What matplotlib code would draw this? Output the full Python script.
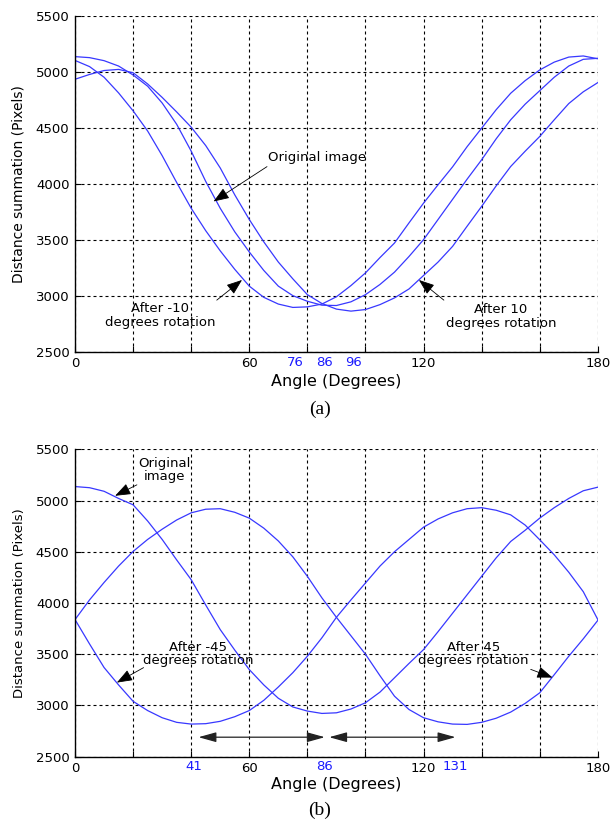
import matplotlib
matplotlib.use("Agg")
import matplotlib.pyplot as plt

# Sampled angles (degrees) shared by every curve
angles = list(range(0, 181, 5))

# (a) small rotations
orig_a = [5134, 5125, 5098, 5050, 4970, 4870, 4720, 4530, 4290, 4020, 3780, 3570,
          3390, 3225, 3085, 3000, 2950, 2915, 2912, 2945, 3009, 3100, 3210, 3350,
          3500, 3680, 3860, 4040, 4213, 4400, 4570, 4710, 4830, 4950, 5050, 5110, 5119]
minus10_a = [5100, 5045, 4950, 4810, 4650, 4470, 4250, 4010, 3780, 3580, 3400, 3235,
             3085, 2985, 2925, 2895, 2900, 2925, 2990, 3090, 3203, 3340, 3470, 3650,
             3826, 3990, 4150, 4330, 4495, 4660, 4807, 4920, 5015, 5085, 5130, 5140, 5115]
plus10_a = [4932, 4975, 5010, 5020, 4990, 4890, 4770, 4640, 4504, 4340, 4140, 3900,
            3680, 3480, 3300, 3150, 3009, 2930, 2880, 2862, 2876, 2920, 2980, 3060,
            3180, 3300, 3440, 3620, 3797, 3980, 4153, 4290, 4421, 4570, 4715, 4820, 4902]
minima_a = [76, 86, 96]

# (b) 45 degree rotations
orig_b = [5136, 5125, 5090, 5020, 4958, 4800, 4620, 4420, 4227, 3980, 3740, 3540,
          3350, 3200, 3070, 2985, 2945, 2922, 2928, 2965, 3026, 3130, 3270, 3410,
          3545, 3720, 3900, 4080, 4260, 4440, 4600, 4710, 4828, 4930, 5020, 5095, 5130]
minus45_b = [3838, 3600, 3370, 3200, 3040, 2950, 2880, 2835, 2818, 2822, 2845, 2890,
             2950, 3050, 3180, 3320, 3480, 3660, 3860, 4030, 4195, 4360, 4500, 4620,
             4740, 4820, 4880, 4920, 4930, 4905, 4860, 4760, 4617, 4470, 4300, 4110, 3838]
plus45_b = [3838, 4030, 4200, 4360, 4503, 4620, 4720, 4810, 4880, 4915, 4920, 4885,
            4828, 4730, 4605, 4450, 4260, 4050, 3860, 3680, 3500, 3290, 3090, 2960,
            2880, 2840, 2818, 2815, 2835, 2875, 2935, 3020, 3123, 3300, 3480, 3650, 3830]
minima_b = [41, 86, 131]

x_ticks = list(range(0, 181, 20))
x_labels = ["0", "", "", "60", "", "", "120", "", "", "180"]
y_ticks = list(range(2500, 5501, 500))

line_color = (0.22, 0.22, 1.0)
font = "DejaVu Sans"
arrow = dict(arrowstyle="-|>,head_length=0.8,head_width=0.3", color="k",
             lw=0.6, shrinkA=0, shrinkB=0, mutation_scale=12)

fig = plt.figure(figsize=(6.1, 8.23), dpi=100)
ax_a = fig.add_axes([0.123, 0.5727, 0.857, 0.4083])
ax_b = fig.add_axes([0.123, 0.0806, 0.857, 0.3735])


def style_axes(ax, marks, ylabel_size):
    ax.set_xlim(0, 180)
    ax.set_ylim(2500, 5500)
    ax.set_xticks(x_ticks, x_labels)
    ax.set_yticks(y_ticks, [str(v) for v in y_ticks])
    ax.tick_params(direction="in", length=4, width=0.8, pad=4, labelsize=9.5)
    for lab in ax.get_xticklabels() + ax.get_yticklabels():
        lab.set_fontfamily(font)
    ax.grid(True, color="k", linestyle=(0, (2.7, 2.7)), linewidth=0.8)
    ax.spines["top"].set_visible(False)
    ax.spines["right"].set_visible(False)
    ax.spines["left"].set_linewidth(1.0)
    ax.spines["bottom"].set_linewidth(1.0)
    for m in marks:
        ax.text(m, -0.012, str(m), transform=ax.get_xaxis_transform(),
                ha="center", va="top", color="#1a1aff", fontsize=9.5, family=font)
    ax.set_xlabel("Angle (Degrees)", fontsize=11.5, family=font)
    ax.set_ylabel("Distance summation (Pixels)", fontsize=ylabel_size, family=font)
    ax.xaxis.set_label_coords(0.5, -0.066)
    ax.yaxis.set_label_coords(-0.094, 0.5)


# ---- (a)
for vals in (orig_a, minus10_a, plus10_a):
    ax_a.plot(angles, vals, color=line_color, lw=0.9)
style_axes(ax_a, minima_a, 10)

ax_a.text(66.6, 4230, "Original image", ha="left", va="center", fontsize=9.5, family=font)
ax_a.annotate("", xy=(47.7, 3841), xytext=(66.1, 4152), arrowprops=arrow)
ax_a.text(29.3, 2821, "After -10\ndegrees rotation", ha="center", va="center",
          fontsize=9.5, family=font, linespacing=1.1)
ax_a.annotate("", xy=(57.5, 3140), xytext=(48.8, 2960), arrowprops=arrow)
ax_a.text(146.6, 2810, "After 10\ndegrees rotation", ha="center", va="center",
          fontsize=9.5, family=font, linespacing=1.1)
ax_a.annotate("", xy=(118.4, 3140), xytext=(127, 2960), arrowprops=arrow)

# ---- (b)
for vals in (orig_b, minus45_b, plus45_b):
    ax_b.plot(angles, vals, color=line_color, lw=0.9)
style_axes(ax_b, minima_b, 9.5)

ax_b.text(30.7, 5299, "Original\nimage", ha="center", va="center",
          fontsize=9.5, family=font, linespacing=1.0)
ax_b.annotate("", xy=(13.8, 5046), xytext=(21.3, 5153), arrowprops=arrow)
ax_b.text(42.4, 3506, "After -45\ndegrees rotation", ha="center", va="center",
          fontsize=9.5, family=font, linespacing=1.0)
ax_b.annotate("", xy=(14.4, 3223), xytext=(23.6, 3369), arrowprops=arrow)
ax_b.text(137.2, 3506, "After 45\ndegrees rotation", ha="center", va="center",
          fontsize=9.5, family=font, linespacing=1.0)
ax_b.annotate("", xy=(164.4, 3272), xytext=(156.9, 3352), arrowprops=arrow)

span = dict(arrowstyle="<|-|>,head_length=0.9,head_width=0.25", color="#222222",
            lw=0.9, shrinkA=0, shrinkB=0, mutation_scale=12)
for lo, hi in zip(minima_b[:-1], minima_b[1:]):
    ax_b.annotate("", xy=(lo + 1.5, 2690), xytext=(hi, 2690), arrowprops=span)

fig.text(320 / 610, 1 - 409 / 823, "(a)", ha="center", va="center",
         fontsize=14, family="Liberation Serif")
fig.text(320 / 610, 1 - 810 / 823, "(b)", ha="center", va="center",
         fontsize=14, family="Liberation Serif")

fig.savefig("out.png", dpi=100)
